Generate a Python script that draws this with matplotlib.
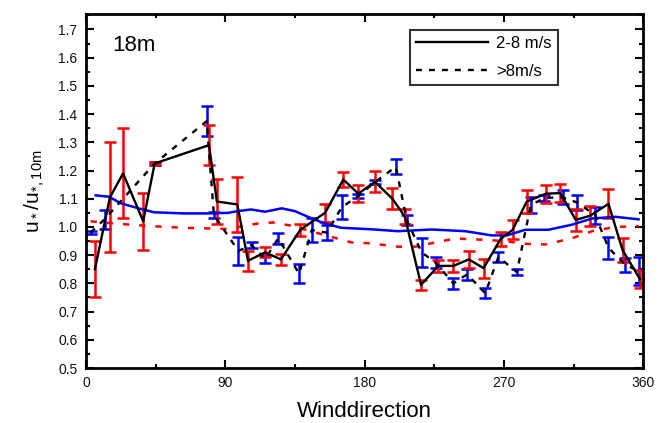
import matplotlib.pyplot as plt
import numpy as np

plt.rcParams['font.family'] = ['Liberation Sans', 'DejaVu Sans']
plt.rcParams['mathtext.default'] = 'regular'

# 2-8 m/s bin means (red error bars, black solid line)
dir_low = [5.8, 15.5, 24, 37, 44.4, 79.5, 84.6, 97.8, 104.7, 115.7, 126, 138.5,
           154.5, 166.3, 176, 186.7, 198, 206, 216.5, 227.7, 237.4, 247.4, 256.9,
           268, 275.7, 284.8, 297.2, 306.4, 316.5, 325.8, 337.6, 346.7, 358]
ratio_low = [0.85, 1.105, 1.19, 1.02, 1.225, 1.29, 1.09, 1.08, 0.88, 0.91, 0.885, 0.99,
             1.05, 1.168, 1.118, 1.16, 1.10, 1.037, 0.795, 0.862, 0.862, 0.885, 0.854,
             0.958, 0.99, 1.09, 1.118, 1.12, 1.025, 1.04, 1.082, 0.918, 0.815]
err_low = [0.10, 0.195, 0.16, 0.10, 0.007, 0.07, 0.08, 0.098, 0.036, 0.018, 0.02, 0.021,
           0.033, 0.027, 0.03, 0.037, 0.038, 0.025, 0.018, 0.02, 0.02, 0.03, 0.034,
           0.024, 0.033, 0.041, 0.032, 0.033, 0.04, 0.036, 0.052, 0.043, 0.032]

# >8 m/s bin means (blue error bars, black dashed line)
dir_high = [3, 12, 44.4, 78, 82.7, 98.5, 107, 115.7, 124.3, 137.7, 145.9, 155.6, 165.3,
            176, 187, 200.2, 207.3, 216.9, 226, 237.4, 246.3, 258, 266.5, 278.4, 287.4,
            296.1, 307.9, 317.2, 329, 337.6, 348.4, 357]
ratio_high = [0.98, 1.027, 1.225, 1.375, 1.042, 0.915, 0.936, 0.886, 0.96, 0.834, 0.989,
              0.98, 1.07, 1.11, 1.16, 1.213, 1.024, 0.91, 0.873, 0.80, 0.832, 0.765,
              0.894, 0.84, 1.077, 1.103, 1.105, 1.087, 1.042, 0.926, 0.866, 0.844]
err_high = [0.005, 0.033, 0.004, 0.053, 0.011, 0.05, 0.011, 0.014, 0.02, 0.034, 0.041,
            0.027, 0.042, 0.008, 0.008, 0.027, 0.018, 0.051, 0.02, 0.02, 0.02, 0.018,
            0.018, 0.012, 0.029, 0.012, 0.025, 0.028, 0.03, 0.038, 0.025, 0.05]

# smoothed curves
dir_smooth_low = [6.3, 15, 22.4, 34, 44, 63.4, 80, 92, 98, 106.6, 115.7, 126.5, 135, 146,
                  154.5, 165, 183.6, 201.7, 223.4, 245, 262.3, 272, 283.8, 298.8, 314,
                  327, 342, 357]
smooth_low = [1.112, 1.107, 1.084, 1.066, 1.052, 1.048, 1.048, 1.050, 1.056, 1.062, 1.054,
              1.066, 1.056, 1.03, 1.012, 0.997, 0.992, 0.985, 0.991, 0.985, 0.97, 0.97,
              0.99, 0.99, 1.008, 1.03, 1.036, 1.027]
dir_smooth_high = [3, 19, 41.8, 63, 91, 111, 121, 132, 154.5, 171.7, 183.6, 201.7, 212.5,
                   223, 238.5, 255, 270, 285, 297, 314, 327, 342, 357]
smooth_high = [1.02, 1.012, 1.003, 0.997, 0.993, 1.012, 1.016, 1.005, 0.971, 0.945, 0.942,
               0.93, 0.93, 0.942, 0.959, 0.955, 0.95, 0.94, 0.938, 0.96, 0.985, 1.0, 1.003]

fig = plt.figure(figsize=(6.61, 4.23), dpi=100)
ax = fig.add_axes([0.130, 0.130, 0.843, 0.837])

ax.errorbar(dir_high, ratio_high, yerr=err_high, fmt='none', ecolor='#0000ff',
            elinewidth=1.8, capsize=4.5, capthick=1.8, zorder=2)
ax.errorbar(dir_low, ratio_low, yerr=err_low, fmt='none', ecolor='#ff0000',
            elinewidth=1.8, capsize=4.5, capthick=1.8, zorder=2)
ax.plot(dir_smooth_low, smooth_low, color='#0000ff', linewidth=1.8, zorder=3)
ax.plot(dir_smooth_high, smooth_high, color='#ff0000', linewidth=1.8,
        linestyle=(0, (2.5, 4)), zorder=3)
ax.plot(dir_low, ratio_low, color='black', linewidth=1.7, zorder=4, label='2-8 m/s')
ax.plot(dir_high, ratio_high, color='black', linewidth=1.7, linestyle=(0, (2.5, 3)),
        zorder=4, label='>8m/s')

ax.set_xlim(0, 360)
ax.set_ylim(0.5, 1.755)
ax.set_xticks([0, 90, 180, 270, 360])
ax.set_xticks([45, 135, 225, 315], minor=True)
ax.set_yticks(np.arange(0.5, 1.71, 0.1))
ax.set_yticks(np.arange(0.55, 1.76, 0.1), minor=True)
ax.set_yticklabels(['%.1f' % v for v in np.arange(0.5, 1.71, 0.1)])
ax.tick_params(which='both', direction='in', top=True, right=True, width=1.5,
               labelsize=10, labelcolor='#111111')
ax.tick_params(which='major', length=6, pad=6)
ax.tick_params(which='minor', length=3)
for s in ax.spines.values():
    s.set_linewidth(2)

ax.set_xlabel('Winddirection', fontsize=16, labelpad=8)
ax.set_ylabel(r'u$_*$/u$_{*,10m}$', fontsize=15, labelpad=8)
ax.text(0.047, 0.912, '18m', transform=ax.transAxes, fontsize=16, va='center')

leg = ax.legend(loc='upper right', bbox_to_anchor=(0.857, 0.97), fontsize=12,
                frameon=True, fancybox=False, edgecolor='black', handlelength=4.3,
                borderpad=0.4, labelspacing=0.75, handletextpad=0.5, borderaxespad=0.3)
leg.get_frame().set_linewidth(1.5)

fig.savefig('out.png', dpi=100)
